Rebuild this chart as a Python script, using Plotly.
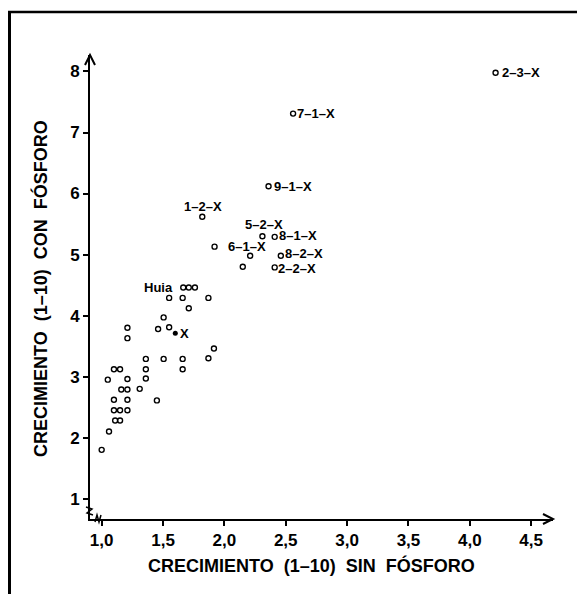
import plotly.graph_objects as go

# ---- data ----
x_open = [1.00, 1.06, 1.05, 1.10, 1.15, 1.10, 1.10, 1.15, 1.21, 1.11, 1.15,
          1.16, 1.21, 1.21, 1.21, 1.21, 1.21, 1.31, 1.36, 1.36, 1.36, 1.45,
          1.46, 1.505, 1.505, 1.55, 1.55, 1.66, 1.66, 1.66, 1.71, 1.76,
          1.71, 1.87, 1.87, 1.915, 2.21, 2.15]
y_open = [1.80, 2.10, 2.95, 3.12, 3.12, 2.62, 2.45, 2.45, 2.45, 2.28, 2.28,
          2.79, 2.79, 2.62, 2.96, 3.80, 3.63, 2.80, 3.29, 3.12, 2.97, 2.61,
          3.78, 3.29, 3.97, 3.81, 4.29, 4.29, 3.29, 3.12, 4.46, 4.46,
          4.12, 4.29, 3.30, 3.46, 4.98, 4.80]

# labelled open points
lab_x = [4.21, 2.56, 2.36, 1.82, 2.31, 2.41, 1.92, 2.46, 2.41, 1.665]
lab_y = [7.98, 7.31, 6.12, 5.62, 5.30, 5.29, 5.13, 4.98, 4.79, 4.46]
lab_text = ["2–3–X", "7–1–X", "9–1–X", "1–2–X", "5–2–X",
            "8–1–X", "6–1–X", "8–2–X", "2–2–X", "Huia"]

# filled point
x_fill = [1.60]
y_fill = [3.71]
fill_text = ["X"]

x_ticks = [1.0, 1.5, 2.0, 2.5, 3.0, 3.5, 4.0, 4.5]
x_ticktext = ["1,0", "1,5", "2,0", "2,5", "3,0", "3,5", "4,0", "4,5"]
y_ticks = [1, 2, 3, 4, 5, 6, 7, 8]

x_title = "CRECIMIENTO  (1–10)  SIN  FÓSFORO"
y_title = "CRECIMIENTO  (1–10)  CON  FÓSFORO"

# ---- styles ----
FONT = "Liberation Sans, Arial, Helvetica, sans-serif"
# label placement relative to its point: (xanchor, xshift px, yshift px)
lab_place = [("left", 5, 0), ("left", 3, 0), ("left", 4, 0), ("center", 1, 10),
             ("center", 2, 12), ("left", 3, 1), ("left", 12, 0), ("left", 3, 2),
             ("left", 2, -1), ("right", -9, 0)]
fill_place = ("left", 4, 0)

open_marker = dict(symbol="circle-open", size=5, color="black",
                   line=dict(width=1.4, color="black"))
label_font = dict(family=FONT, size=13, color="black", weight="bold")

fig = go.Figure()
fig.add_trace(go.Scatter(x=x_open + lab_x, y=y_open + lab_y, mode="markers",
                         marker=open_marker, hoverinfo="skip"))
fig.add_trace(go.Scatter(x=x_fill, y=y_fill, mode="markers",
                         marker=dict(symbol="circle", size=5, color="black"),
                         hoverinfo="skip"))

for xv, yv, t, (xa, xs, ys) in zip(lab_x, lab_y, lab_text, lab_place):
    fig.add_annotation(x=xv, y=yv, text=t, showarrow=False, xanchor=xa,
                       yanchor="middle", xshift=xs, yshift=ys, font=label_font,
                       borderpad=0)
for xv, yv, t in zip(x_fill, y_fill, fill_text):
    xa, xs, ys = fill_place
    fig.add_annotation(x=xv, y=yv, text=t, showarrow=False, xanchor=xa,
                       yanchor="middle", xshift=xs, yshift=ys, font=label_font,
                       borderpad=0)

# The page body has an 8px margin, so the figure is placed 8px in and down.
OFF = 8
W, H = 585 - OFF, 594 - OFF
L = 90 - OFF
T = 55 - OFF
R = W - (553 - OFF)
B = H - (519 - OFF)
pw, ph = W - L - R, H - T - B


def px2paper_x(px):
    """page pixel x -> paper coordinate"""
    return (px - OFF - L) / pw


def py2paper_y(py):
    """page pixel y -> paper coordinate"""
    return (H - B - (py - OFF)) / ph


tickfont = dict(family=FONT, size=17, color="black", weight="bold")
fig.update_layout(
    width=W, height=H,
    margin=dict(l=L, r=R, t=T, b=B),
    paper_bgcolor="white", plot_bgcolor="white",
    showlegend=False,
    xaxis=dict(range=[0.905, 4.678], tickvals=x_ticks, ticktext=x_ticktext,
               showgrid=False, zeroline=False, showline=True, linecolor="black",
               linewidth=2, ticks="outside", ticklen=5, tickwidth=2,
               tickcolor="black", tickfont=tickfont, fixedrange=True),
    yaxis=dict(range=[0.667, 8.27], tickvals=y_ticks,
               showgrid=False, zeroline=False, showline=True, linecolor="black",
               linewidth=2, ticks="outside", ticklen=5, tickwidth=2,
               tickcolor="black", tickfont=tickfont, fixedrange=True),
)

title_font = dict(family=FONT, size=18, color="black", weight="bold")
fig.add_annotation(text=x_title, xref="paper", yref="paper",
                   x=px2paper_x(311), y=py2paper_y(565), showarrow=False,
                   xanchor="center", yanchor="middle", font=title_font)
fig.add_annotation(text=y_title, xref="paper", yref="paper",
                   x=px2paper_x(40), y=py2paper_y(289), showarrow=False,
                   textangle=-90, xanchor="center", yanchor="middle", font=title_font)

# arrowheads at the axis ends
fig.add_shape(type="path", xref="paper", yref="paper", xsizemode="pixel",
              ysizemode="pixel", xanchor=0, yanchor=1,
              path="M -5,-10 L 0,0 L 5,-10", line=dict(color="black", width=2))
fig.add_shape(type="path", xref="paper", yref="paper", xsizemode="pixel",
              ysizemode="pixel", xanchor=1, yanchor=0,
              path="M -10,5 L 0,0 L -10,-5", line=dict(color="black", width=2))
# axis break marks at the corner
fig.add_shape(type="path", xref="paper", yref="paper", xsizemode="pixel",
              ysizemode="pixel", xanchor=0, yanchor=0,
              path="M -4,12 L 2,10 L -3,6 L 3,4", line=dict(color="black", width=1.5))
fig.add_shape(type="path", xref="paper", yref="paper", xsizemode="pixel",
              ysizemode="pixel", xanchor=0, yanchor=0,
              path="M 5,-3 L 7,4 L 9,-3 L 11,4", line=dict(color="black", width=1.5))

# outer frame (left and top edges)
fig.add_shape(type="line", xref="paper", yref="paper",
              x0=px2paper_x(9.5), x1=px2paper_x(9.5), y0=py2paper_y(12), y1=py2paper_y(600),
              line=dict(color="black", width=3))
fig.add_shape(type="line", xref="paper", yref="paper",
              x0=px2paper_x(8), x1=px2paper_x(590), y0=py2paper_y(12), y1=py2paper_y(12),
              line=dict(color="black", width=2.5))

fig.write_html("out.html")
